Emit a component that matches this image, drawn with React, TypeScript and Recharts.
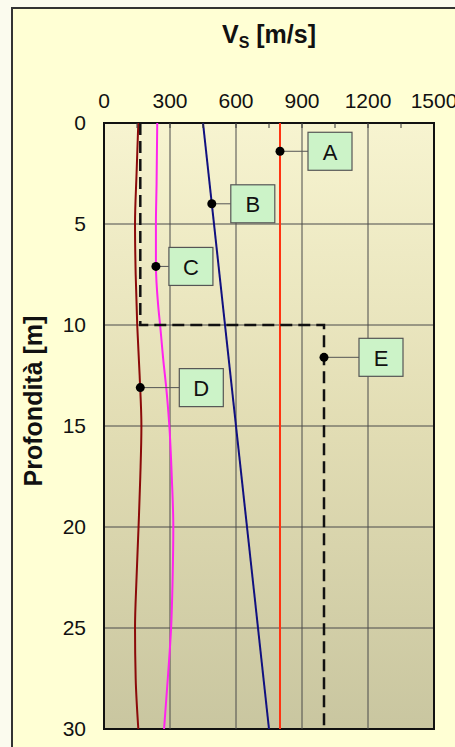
import React from 'react'
import { ScatterChart, Scatter, XAxis, YAxis, CartesianGrid, ReferenceLine, ReferenceArea } from 'recharts'

// velocity axis (m/s)
const vsTicks = [0, 150, 300, 450, 600, 750, 900, 1050, 1200, 1350, 1500]
const vsGrid = [300, 600, 900, 1200]
const depthTicks = [0, 5, 10, 15, 20, 25, 30]

// profile A - constant
const depthA = [0, 30]
const vsA = [800, 800]

// profile B - linear increase
const depthB = [0, 30]
const vsB = [450, 750]

// profile C (magenta)
const depthC = [0, 3, 5, 7, 9, 10, 12, 13, 15, 17.5, 20, 22.5, 25, 27.5, 30]
const vsC = [242, 239, 236, 236, 246, 255, 272, 282, 297, 308, 315, 312, 305, 290, 273]

// profile D (dark red)
const depthD = [0, 2.5, 5, 7.5, 10, 12.5, 15, 17.5, 20, 22.5, 25, 27.5, 30]
const vsD = [156, 148, 141, 144, 151, 162, 170, 165, 157, 148, 141, 144, 156]

// profile E - two layers (dashed)
const depthE = [0, 10, 10, 30]
const vsE = [165, 165, 1000, 1000]

// callouts
const calloutLabels = ['A', 'B', 'C', 'D', 'E']
const calloutVs = [800, 490, 236, 165, 1000]
const calloutDepth = [1.4, 4, 7.1, 13.1, 11.6]

const calloutOffsets: Record<string, number> = { A: 28, B: 19, C: 13, D: 39, E: 35 }

const FONT = 'Arial, "Liberation Sans", sans-serif'

const toPoints = (depth: number[], vs: number[]) => depth.map((z, i) => ({ z, vs: vs[i] }))

const calloutData = calloutLabels.map((label, i) => ({ label, vs: calloutVs[i], z: calloutDepth[i] }))

function VsTick(props: any) {
  const { x, y, payload } = props
  const v = payload.value
  const major = v % 300 === 0
  return (
    <g>
      {v > 0 && v < 1500 && <line x1={x} x2={x} y1={y} y2={y + 5} stroke="#333" strokeWidth={1} />}
      {major && (
        <text x={x} y={y - 15} textAnchor="middle" fontSize={21} fontFamily={FONT} fill="#111">
          {v}
        </text>
      )}
    </g>
  )
}

function TitleLabel(props: any) {
  const vb = props.viewBox || { x: 104, y: 0, width: 330, height: 123 }
  const cx = vb.x + vb.width / 2
  return (
    <text x={cx} y={43} textAnchor="middle" fontSize={25} fontWeight="bold" fontFamily={FONT} fill="#111">
      V
      <tspan fontSize={16} dy={5}>S</tspan>
      <tspan dy={-5}> [m/s]</tspan>
    </text>
  )
}

function DepthLabel(props: any) {
  const vb = props.viewBox || { x: 0, y: 123, width: 104, height: 606 }
  const x = vb.x + 33
  const y = vb.y + 278
  return (
    <text
      x={x}
      y={y}
      transform={`rotate(-90, ${x}, ${y})`}
      textAnchor="middle"
      dominantBaseline="central"
      fontSize={25}
      fontWeight="bold"
      fontFamily={FONT}
      fill="#111"
    >
      Profondità [m]
    </text>
  )
}

function Callout(props: any) {
  const { cx, cy, payload } = props
  const bx = cx + calloutOffsets[payload.label]
  return (
    <g>
      <line x1={cx} y1={cy} x2={bx} y2={cy} stroke="#555" strokeWidth={1} />
      <circle cx={cx} cy={cy} r={4.5} fill="#000" />
      <rect x={bx} y={cy - 19} width={44} height={38} fill="#ccf3c8" stroke="#555" strokeWidth={1.2} />
      <text x={bx + 22} y={cy + 1} textAnchor="middle" dominantBaseline="central" fontSize={22} fontFamily={FONT} fill="#111">
        {payload.label}
      </text>
    </g>
  )
}

const noDot = () => <g />

export default function App() {
  return (
    <div style={{ position: 'absolute', left: 0, top: 0, width: 455, height: 747, background: '#fbfbee', overflow: 'hidden' }}>
      <div
        style={{
          position: 'absolute',
          left: 11,
          top: 7,
          width: 470,
          height: 770,
          background: '#ffffd4',
          borderLeft: '2px solid #333',
          borderTop: '2px solid #333',
        }}
      />
      <div style={{ position: 'absolute', left: 0, top: 0 }}>
        <ScatterChart width={455} height={747} margin={{ top: 0, right: 21, bottom: 18, left: 0 }}>
          <defs>
            <linearGradient id="plotBg" x1="0" y1="0" x2="0" y2="1">
              <stop offset="0%" stopColor="#f7f4d0" />
              <stop offset="50%" stopColor="#e2ddb4" />
              <stop offset="100%" stopColor="#c9c6a0" />
            </linearGradient>
          </defs>
          <CartesianGrid vertical={false} stroke="#4a4a4a" strokeWidth={1} fill="url(#plotBg)" fillOpacity={1} />
          <XAxis
            type="number"
            dataKey="vs"
            orientation="top"
            domain={[0, 1500]}
            ticks={vsTicks}
            interval={0}
            height={123}
            axisLine={false}
            tickLine={false}
            tickSize={0}
            tickMargin={0}
            tick={<VsTick />}
            label={<TitleLabel />}
            allowDataOverflow
          />
          <YAxis
            type="number"
            dataKey="z"
            domain={[0, 30]}
            ticks={depthTicks}
            interval={0}
            reversed
            width={104}
            axisLine={false}
            tickLine={false}
            tickMargin={12}
            tick={{ fontSize: 21, fill: '#111', fontFamily: FONT }}
            label={<DepthLabel />}
            allowDataOverflow
          />
          {vsGrid.map((v) => (
            <ReferenceLine key={v} x={v} stroke="#4a4a4a" strokeWidth={1} />
          ))}
          <Scatter
            data={toPoints(depthD, vsD)}
            line={{ stroke: '#8b0a0a', strokeWidth: 2 }}
            lineJointType="monotoneY"
            shape={noDot}
            isAnimationActive={false}
          />
          <Scatter
            data={toPoints(depthC, vsC)}
            line={{ stroke: '#ff22ee', strokeWidth: 2 }}
            lineJointType="monotoneY"
            shape={noDot}
            isAnimationActive={false}
          />
          <Scatter
            data={toPoints(depthB, vsB)}
            line={{ stroke: '#101080', strokeWidth: 2 }}
            shape={noDot}
            isAnimationActive={false}
          />
          <Scatter
            data={toPoints(depthA, vsA)}
            line={{ stroke: '#ff3311', strokeWidth: 2 }}
            shape={noDot}
            isAnimationActive={false}
          />
          <Scatter
            data={toPoints(depthE, vsE)}
            line={{ stroke: '#111', strokeWidth: 2.5, strokeDasharray: '12 6' }}
            shape={noDot}
            isAnimationActive={false}
          />
          <ReferenceArea x1={0} x2={1500} y1={0} y2={30} fill="none" stroke="#111" strokeWidth={2} ifOverflow="visible" />
          <Scatter data={calloutData} shape={<Callout />} isAnimationActive={false} />
        </ScatterChart>
      </div>
    </div>
  )
}
